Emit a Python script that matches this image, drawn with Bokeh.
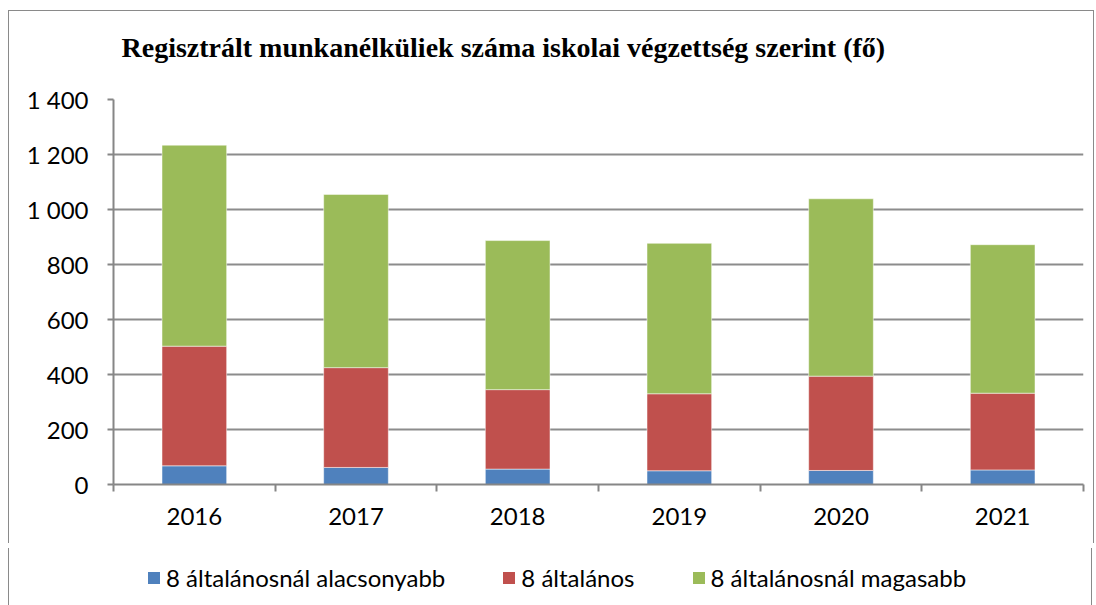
from bokeh.plotting import figure
from bokeh.layouts import column
from bokeh.models import Range1d, FixedTicker, ColumnDataSource, Title, Div
from bokeh.embed import file_html
from bokeh.resources import INLINE

years = ["2016", "2017", "2018", "2019", "2020", "2021"]
series_names = ["8 általánosnál alacsonyabb", "8 általános", "8 általánosnál magasabb"]
below8 = [68, 62, 56, 50, 51, 53]
exactly8 = [435, 363, 289, 280, 343, 279]
above8 = [731, 630, 542, 547, 645, 540]
colors = ["#4F81BD", "#C0504D", "#9BBB59"]
y_ticks = [0, 200, 400, 600, 800, 1000, 1200, 1400]
y_tick_labels = ["0", "200", "400", "600", "800", "1 000", "1 200", "1 400"]
title_text = "Regisztrált munkanélküliek száma iskolai végzettség szerint (fő)"

x = list(range(len(years)))
src = ColumnDataSource(dict(x=x, a=below8, b=exactly8, c=above8))

BORDER = "1px solid #8a8a8a"

p = figure(frame_width=968, frame_height=384, output_backend="svg", toolbar_location=None,
           title=None,
           x_range=Range1d(-0.5, len(years) - 0.5), y_range=Range1d(0, 1400),
           min_border_left=104, min_border_right=12, min_border_top=87, min_border_bottom=60)
p.styles = {"border-top": BORDER, "border-left": BORDER, "border-right": BORDER,
            "margin-left": "8px", "margin-top": "10px"}
p.outline_line_color = None
p.background_fill_color = "white"
p.border_fill_color = "white"

rs = p.vbar_stack(["a", "b", "c"], x="x", width=0.4, source=src, color=colors,
                  line_color="white", line_width=0.5)

# spacer between title and plot area, then the title itself
p.add_layout(Title(text=" ", text_font_size="10px", standoff=5), "above")
p.add_layout(Title(text=title_text, align="left", offset=8,
                   text_font="Liberation Serif", text_font_size="28px", text_font_style="bold",
                   text_color="black", standoff=37), "above")

# axes
p.xaxis.ticker = FixedTicker(ticks=x, minor_ticks=[i - 0.5 for i in range(len(years) + 1)])
p.xaxis.major_label_overrides = {i: y for i, y in enumerate(years)}
p.xaxis.major_tick_out = 0
p.xaxis.major_tick_in = 0
p.xaxis.minor_tick_out = 7
p.xaxis.minor_tick_in = 0
p.xaxis.minor_tick_line_color = "#868686"
p.xaxis.minor_tick_line_width = 2
p.xaxis.axis_line_color = "#868686"
p.xaxis.axis_line_width = 2
p.xaxis.major_label_text_font = "Lato"
p.xaxis.major_label_text_font_size = "24px"
p.xaxis.major_label_text_color = "black"
p.xaxis.major_label_standoff = 16

p.yaxis.ticker = FixedTicker(ticks=y_ticks, minor_ticks=[])
p.yaxis.major_label_overrides = {v: s for v, s in zip(y_ticks, y_tick_labels)}
p.yaxis.major_tick_out = 6
p.yaxis.major_tick_in = 0
p.yaxis.major_tick_line_color = "#868686"
p.yaxis.major_tick_line_width = 2
p.yaxis.axis_line_color = "#868686"
p.yaxis.axis_line_width = 2
p.yaxis.major_label_text_font = "Lato"
p.yaxis.major_label_text_font_size = "24px"
p.yaxis.major_label_text_color = "black"
p.yaxis.major_label_standoff = 19

p.xgrid.grid_line_color = None
p.ygrid.grid_line_color = "#8c8c8c"
p.ygrid.grid_line_width = 2

# legend strip below the chart (HTML, built from the series names and colours)
items_html = "".join(
    '<span style="display:inline-flex;align-items:center;margin-right:58px;">'
    f'<span style="display:inline-block;width:12px;height:12px;background:{c};margin-right:6px;"></span>'
    f'{n}</span>'
    for n, c in zip(series_names, colors)
)
legend_html = (
    '<div style="display:flex;align-items:center;height:60px;padding-left:139px;'
    'font-family:Lato;font-size:24px;color:black;white-space:nowrap;">'
    + items_html + '</div>'
)
legend_div = Div(text=legend_html, width=1084, height=60,
                 styles={"border-left": BORDER, "border-right": BORDER,
                         "margin-left": "8px", "background": "white"})

layout = column(p, legend_div, spacing=0)
open("out.html", "w").write(file_html(layout, INLINE))
